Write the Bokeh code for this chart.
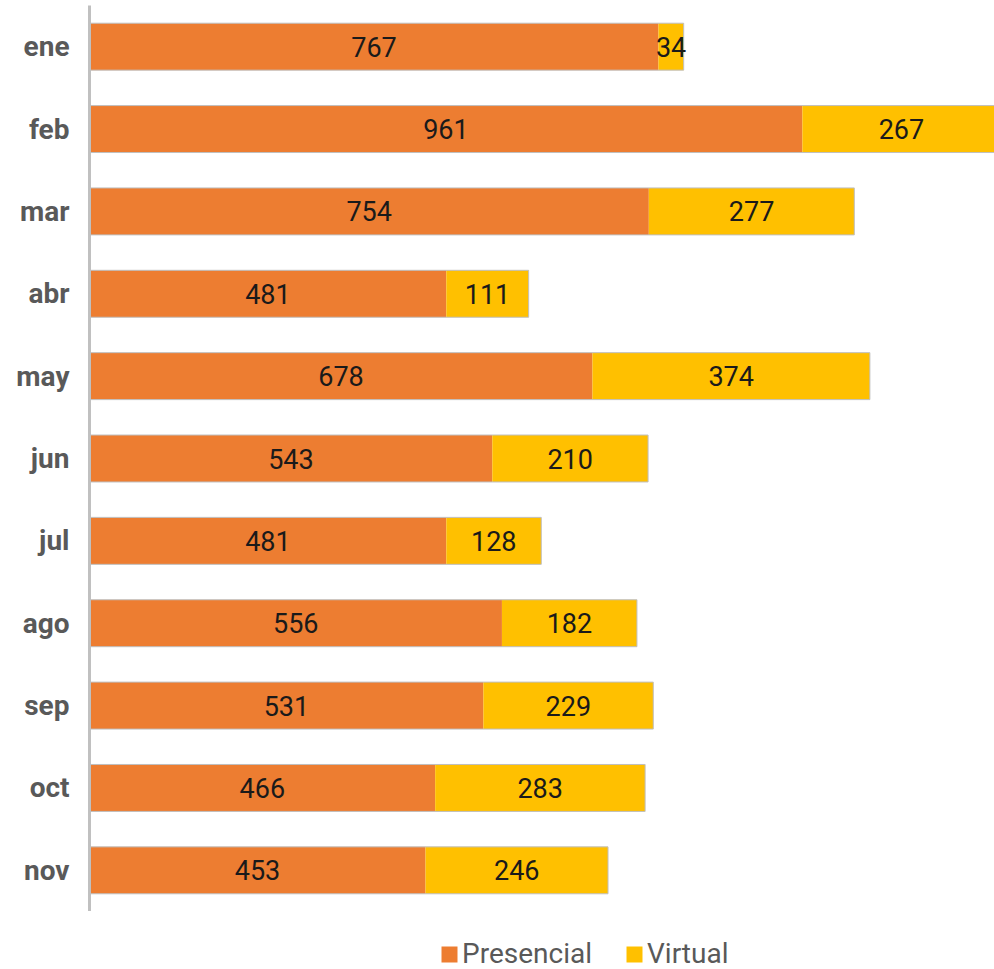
from bokeh.plotting import figure
from bokeh.layouts import column
from bokeh.models import (ColumnDataSource, FactorRange, Range1d, LabelSet,
                          Legend, LegendItem)
from bokeh.core.properties import value
from bokeh.embed import file_html
from bokeh.resources import INLINE

months = ["ene", "feb", "mar", "abr", "may", "jun", "jul", "ago", "sep", "oct", "nov"]
presencial = [767, 961, 754, 481, 678, 543, 481, 556, 531, 466, 453]
virtual = [34, 267, 277, 111, 374, 210, 128, 182, 229, 283, 246]
series_names = ["Presencial", "Virtual"]

ORANGE = "#ED7D31"
YELLOW = "#FFC000"

total = [a + b for a, b in zip(presencial, virtual)]
src = ColumnDataSource(dict(
    month=months,
    pres=presencial,
    virt=virtual,
    total=total,
    pres_mid=[a / 2 for a in presencial],
    virt_mid=[a + b / 2 for a, b in zip(presencial, virtual)],
    pres_txt=[str(a) for a in presencial],
    virt_txt=[str(b) for b in virtual],
))

p = figure(
    y_range=FactorRange(factors=months[::-1]),
    x_range=Range1d(0, 1220),
    x_axis_location=None,
    frame_width=905, frame_height=906,
    min_border_left=89, min_border_right=0, min_border_top=5, min_border_bottom=0,
    output_backend="svg", toolbar_location=None,
)
p.xgrid.visible = False
p.ygrid.visible = False
p.outline_line_color = None

ax = p.yaxis[0]
ax.axis_line_color = "#C0C0C0"
ax.axis_line_width = 3
ax.major_tick_line_color = None
ax.minor_tick_line_color = None
ax.major_label_standoff = 14
ax.major_label_text_font = "Roboto"
ax.major_label_text_font_style = "bold"
ax.major_label_text_font_size = "28px"
ax.major_label_text_color = "#595959"

BAR_H = 0.57
p.hbar(y="month", left=0, right="pres", height=BAR_H, fill_color=ORANGE,
       line_color=None, source=src)
p.hbar(y="month", left="pres", right="total", height=BAR_H, fill_color=YELLOW,
       line_color=None, source=src)
p.hbar(y="month", left=0, right="total", height=BAR_H, fill_color=None,
       line_color="#BFBFBF", line_width=1, source=src)

common = dict(text_align="center", text_baseline="middle", text_font=value("Roboto"),
              text_font_size="27px", text_color="#1a1a1a", source=src)
p.add_layout(LabelSet(x="pres_mid", y="month", text="pres_txt", **common))
p.add_layout(LabelSet(x="virt_mid", y="month", text="virt_txt", **common))

# Legend strip below the chart (its renderers have zero height, so only the
# legend swatches are visible)
pl = figure(
    width=994, height=58, x_range=Range1d(0, 1500),
    y_range=FactorRange(factors=months[::-1]),
    x_axis_location=None, y_axis_location=None,
    min_border_left=0, min_border_right=0, min_border_top=0, min_border_bottom=0,
    output_backend="svg", toolbar_location=None,
)
pl.xgrid.visible = False
pl.ygrid.visible = False
pl.outline_line_color = None
l1 = pl.hbar(y="month", left=0, right="pres", height=0, fill_color=ORANGE,
             line_color=None, source=src)
l2 = pl.hbar(y="month", left="pres", right="total", height=0, fill_color=YELLOW,
             line_color=None, source=src)

legend = Legend(
    items=[LegendItem(label=series_names[0], renderers=[l1]),
           LegendItem(label=series_names[1], renderers=[l2])],
    location=(350, -1), orientation="horizontal",
    glyph_width=20, glyph_height=20, label_standoff=3, spacing=32,
    padding=0, margin=0, border_line_color=None, background_fill_alpha=0,
    label_text_font="Roboto", label_text_font_size="28px",
    label_text_color="#595959", label_height=20,
)
pl.add_layout(legend, "center")

layout = column(p, pl, spacing=0)
open("out.html", "w").write(file_html(layout, INLINE))
